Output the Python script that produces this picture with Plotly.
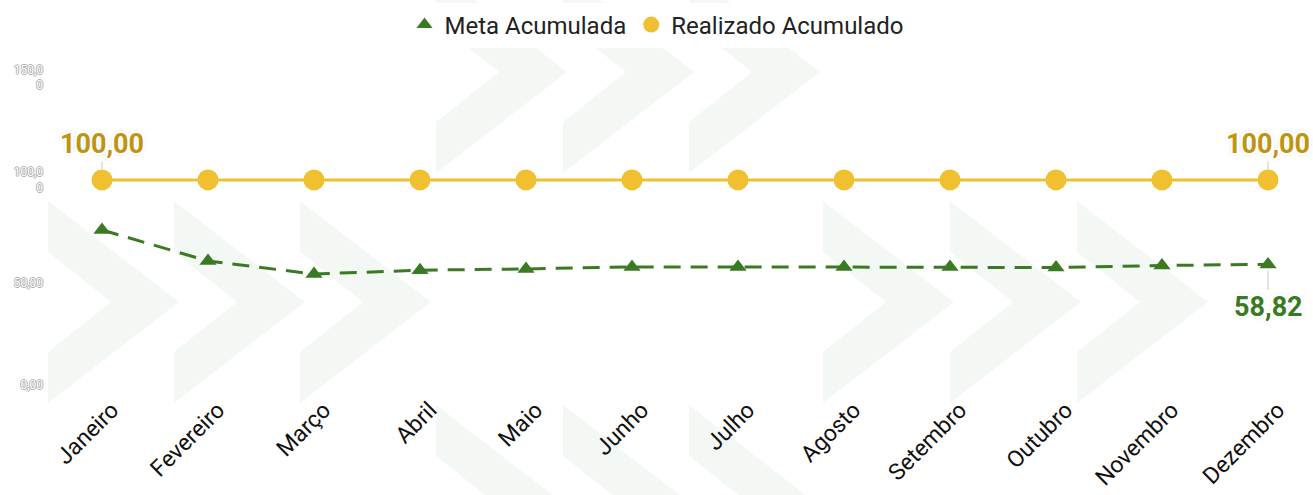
import plotly.graph_objects as go

months = ["Janeiro", "Fevereiro", "Março", "Abril", "Maio", "Junho",
          "Julho", "Agosto", "Setembro", "Outubro", "Novembro", "Dezembro"]
meta_acumulada = [75.6, 60.5, 54.1, 56.0, 56.6, 57.6, 57.6, 57.6, 57.5, 57.3, 58.3, 58.82]
realizado_acumulado = [100, 100, 100, 100, 100, 100, 100, 100, 100, 100, 100, 100]
y_tickvals = [0, 50, 100, 150]
y_ticktext = ["0,00", "50,00", "100,0<br>0", "150,0<br>0"]

GREEN = "#3a7a22"
GOLD_LINE = "#f0c030"
GOLD_TEXT = "#bf9412"
FONT = "Roboto"

W, H = 1313, 495
ML, MR, MT, MB = 49, 2, 60, 110
PW, PH = W - ML - MR, H - MT - MB


def fmt(v):
    return f"{v:.2f}".replace(".", ",")


fig = go.Figure()

# background decorative chevrons (pixel layout -> paper coords)
def chevron(x0, mid):
    pts = [(x0, mid - 101), (x0 + 131, mid), (x0, mid + 101),
           (x0, mid + 50), (x0 + 63, mid), (x0, mid - 50)]
    p = ["{} {:.4f},{:.4f}".format("M" if i == 0 else "L",
                                    (x - ML) / PW, (MT + PH - y) / PH)
         for i, (x, y) in enumerate(pts)]
    return " ".join(p) + " Z"

chev_rows = [((436, 563, 689), 72), ((48, 174, 300), 302),
             ((823, 950, 1077), 302), ((436, 563, 689), 506)]
for xs, mid in chev_rows:
    for x0 in xs:
        fig.add_shape(type="path", path=chevron(x0, mid), xref="paper", yref="paper",
                      fillcolor="rgba(225,238,227,0.4)", line_width=0, layer="below")

fig.add_trace(go.Scatter(
    x=months, y=realizado_acumulado, mode="lines+markers", name="Realizado Acumulado",
    line=dict(color=GOLD_LINE, width=3),
    marker=dict(symbol="circle", size=21, color=GOLD_LINE),
    showlegend=False, cliponaxis=False))
fig.add_trace(go.Scatter(
    x=months, y=meta_acumulada, mode="lines+markers", name="Meta Acumulada",
    line=dict(color=GREEN, width=3, dash="17px,10px"),
    marker=dict(symbol="triangle-up", size=15, color=GREEN),
    showlegend=False, cliponaxis=False))

# legend-only entries (markers only, like reference)
fig.add_trace(go.Scatter(x=[None], y=[None], mode="markers", name="Meta Acumulada",
                         marker=dict(symbol="triangle-up", size=14, color=GREEN)))
fig.add_trace(go.Scatter(x=[None], y=[None], mode="markers", name="Realizado Acumulado",
                         marker=dict(symbol="circle", size=18, color=GOLD_LINE)))

halo = ("-2px 0 0 #fff, 2px 0 0 #fff, 0 -2px 0 #fff, 0 2px 0 #fff, "
        "-2px -2px 0 #fff, 2px 2px 0 #fff, -2px 2px 0 #fff, 2px -2px 0 #fff, 0 0 4px #aaa")

for i in (0, len(months) - 1):
    fig.add_annotation(x=months[i], y=realizado_acumulado[i], text=fmt(realizado_acumulado[i]),
                       showarrow=True, arrowhead=0, arrowwidth=1, arrowcolor="#c8c8c8",
                       ax=0, ay=-36, standoff=9,
                       font=dict(family=FONT, size=27, color=GOLD_TEXT, weight="bold", shadow=halo))
fig.add_annotation(x=months[-1], y=meta_acumulada[-1], text=fmt(meta_acumulada[-1]),
                   showarrow=True, arrowhead=0, arrowwidth=1, arrowcolor="#c8c8c8",
                   ax=0, ay=43, standoff=6,
                   font=dict(family=FONT, size=27, color=GREEN, weight="bold", shadow=halo))

fig.update_layout(
    width=W, height=H,
    margin=dict(l=ML, r=MR, t=MT, b=MB, autoexpand=False),
    paper_bgcolor="white", plot_bgcolor="rgba(0,0,0,0)",
    font=dict(family=FONT, color="#222"),
    showlegend=True,
    legend=dict(orientation="h", x=0.5, xanchor="center", y=1 - 25 / H, yanchor="middle",
                yref="container", xref="container",
                font=dict(family=FONT, size=24, color="#222"), itemsizing="trace",
                itemwidth=30, traceorder="normal"),
    xaxis=dict(type="category", range=[-0.5, -0.5 + PW / 106.0], showgrid=False,
               showline=False, zeroline=False, ticks="", tickangle=-45,
               ticklabelshift=10, ticklabelstandoff=6,
               tickfont=dict(family=FONT, size=23, color="#111")),
    yaxis=dict(range=[0, 158.5], showgrid=False, showline=False, zeroline=False,
               tickvals=y_tickvals, ticktext=y_ticktext, ticks="", ticklabelstandoff=5,
               tickfont=dict(family=FONT, size=12, color="#ffffff",
                             shadow="1px 0 0 #b0b0b0, -1px 0 0 #b0b0b0, 0 1px 0 #b0b0b0, 0 -1px 0 #b0b0b0")),
)

fig.write_html("out.html", config={"displayModeBar": False},
               post_script="document.body.style.margin='0';document.body.style.overflow='hidden';")
